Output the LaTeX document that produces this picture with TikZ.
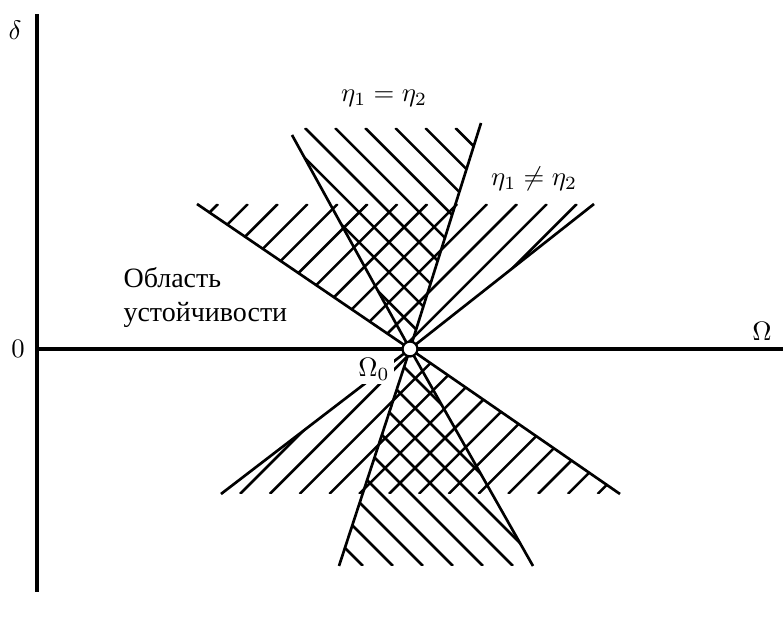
\documentclass[tikz,border=0pt]{standalone}
\usepackage{fontspec}
\newfontfamily\rufont{Liberation Serif}
\begin{document}
\begin{tikzpicture}[x=0.375pt,y=-0.375pt,
  axisline/.style={line width=1.2pt},
  boundline/.style={line width=1.0pt},
  hatchline/.style={line width=0.95pt},
  rutext/.style={anchor=base west,inner sep=0pt,font=\rufont\fontsize{10.5}{12}\selectfont}]
\useasboundingbox (0,0) rectangle (783,621);
% key points
\coordinate (O) at (410,349);
\coordinate (Ytop) at (37,14);
\coordinate (Ybot) at (37,592);
\coordinate (Xl) at (37,349);
\coordinate (Xr) at (783,349);
\coordinate (Lu) at (197,204);
\coordinate (Ld) at (620,494);
\coordinate (Ru) at (594,204);
\coordinate (Rd) at (221,494);
\coordinate (Au) at (292,135);
\coordinate (Ad) at (533,566);
\coordinate (Bu) at (481,123);
\coordinate (Bd) at (339,566);
% axes
\draw[axisline] (Ybot) -- (Ytop);
\draw[axisline] (Xl) -- (Xr);
% upper "/" hatching (eta1 != eta2)
\begin{scope}
  \clip (Lu) -- (O) -- (Ru) -- cycle;
  \foreach \k in {0,...,12} \draw[hatchline] ({218+29.9*\k},204) -- ++(-320,320);
\end{scope}
% lower "/" hatching
\begin{scope}
  \clip (Rd) -- (O) -- (Ld) -- cycle;
  \foreach \k in {0,...,12} \draw[hatchline] ({240+29.8*\k},494) -- ++(320,-320);
\end{scope}
% upper "\" hatching (eta1 = eta2)
\begin{scope}
  \clip (288,128) -- (479.4,128) -- (O) -- cycle;
  \foreach \k in {-3,...,5} \draw[hatchline] ({305+30.1*\k},128) -- ++(230,230);
\end{scope}
% lower "\" hatching
\begin{scope}
  \clip (O) -- (Bd) -- (Ad) -- cycle;
  \foreach \k in {0,...,8} \draw[hatchline] ({363+30*\k},566) -- ++(-230,-230);
\end{scope}
% boundary lines
\draw[boundline] (Lu) -- (O) -- (Ld);
\draw[boundline] (Ru) -- (O) -- (Rd);
\draw[boundline] (Au) -- (O) -- (Ad);
\draw[boundline] (Bu) -- (O) -- (Bd);
% labels
\node (delta) at (15,30) {$\delta$};
\node (zero) at (18,349) {$0$};
\node (omega) at (762,331) {$\Omega$};
\node[fill=white,inner sep=1.5pt] (omega0) at (374,369) {$\Omega_0$};
\node (eqlab) at (384,98) {$\eta_1=\eta_2$};
\node (neqlab) at (534,179) {$\eta_1\neq\eta_2$};
\node[rutext] (t1) at (123,288) {Область};
\node[rutext] (t2) at (123,322) {устойчивости};
% point Omega_0
\node[draw,circle,fill=white,inner sep=0pt,minimum size=5.6pt,line width=0.85pt] (Oc) at (O) {};
\end{tikzpicture}
\end{document}
